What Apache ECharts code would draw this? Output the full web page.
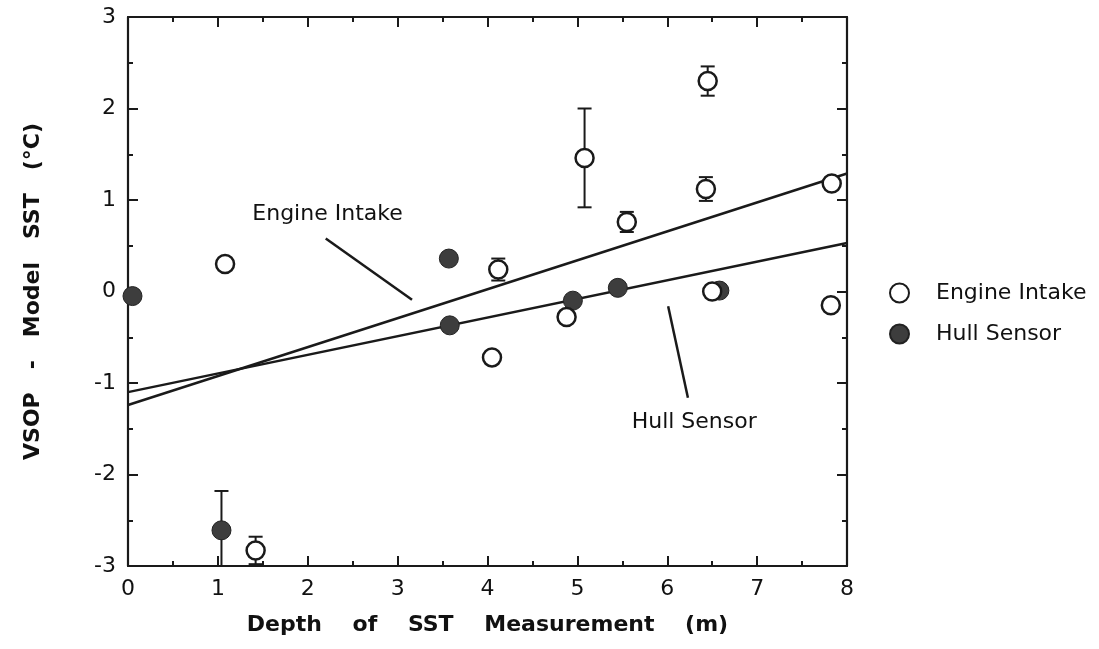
<!DOCTYPE html>
<html><head><meta charset="utf-8">
<script src="https://cdn.jsdelivr.net/npm/echarts@6/dist/echarts.min.js"></script>
<style>html,body{margin:0;padding:0;background:#fff}#c{width:1099px;height:649px}</style>
</head><body><div id="c"></div>
<script>
// ---- data ----
const engineX   = [1.08, 1.42, 4.05, 4.12, 4.88, 5.08, 5.55, 6.45, 6.43, 6.50, 7.83, 7.82];
const engineY   = [0.30, -2.83, -0.72, 0.24, -0.28, 1.46, 0.76, 2.30, 1.12, 0.00, 1.18, -0.15];
const engineErr = [0, 0.15, 0, 0.12, 0, 0.54, 0.11, 0.16, 0.13, 0.04, 0.05, 0];

const hullX   = [0.05, 1.04, 3.57, 3.58, 4.95, 5.45, 6.58];
const hullY   = [-0.05, -2.61, 0.36, -0.37, -0.10, 0.04, 0.01];
const hullErr = [0, 0.43, 0, 0, 0, 0, 0];

const fitX = [0, 8];
const engineFitY = [-1.24, 1.29];
const hullFitY = [-1.10, 0.53];

const engineLeaderX = [2.20, 3.16];
const engineLeaderY = [0.58, -0.09];
const hullLeaderX = [6.01, 6.23];
const hullLeaderY = [-0.16, -1.16];

const annotX = [2.22, 6.30];
const annotY = [0.84, -1.43];
const annotText = ['Engine Intake', 'Hull Sensor'];

const xTicks = [0, 8, 1];   // min, max, interval
const yTicks = [-3, 3, 1];
const xTitle = 'Depth    of    SST    Measurement    (m)';
const yTitle = 'VSOP   -   Model   SST   (°C)';
const legendNames = ['Engine Intake', 'Hull Sensor'];

// ---- chart ----
const INK = '#1a1a1a';
const FONT = 'DejaVu Sans';
const zip = (a, b, c) => a.map((v, i) => c ? [v, b[i], c[i]] : [v, b[i]]);

function errBar(params, api) {
  const x = api.value(0), y = api.value(1), e = api.value(2);
  if (!e) return null;
  const t = api.coord([x, y + e]), b = api.coord([x, y - e]);
  const hw = 7;
  const st = { stroke: INK, lineWidth: 2 };
  return { type: 'group', children: [
    { type: 'line', shape: { x1: t[0], y1: t[1], x2: b[0], y2: b[1] }, style: st },
    { type: 'line', shape: { x1: t[0] - hw, y1: t[1], x2: t[0] + hw, y2: t[1] }, style: st },
    { type: 'line', shape: { x1: b[0] - hw, y1: b[1], x2: b[0] + hw, y2: b[1] }, style: st }
  ]};
}

function axisBase(pos, rng, showLabel) {
  return {
    type: 'value', position: pos, min: rng[0], max: rng[1], interval: rng[2],
    axisLine: { show: true, onZero: false, lineStyle: { color: INK, width: 2.2 } },
    axisTick: { show: true, inside: true, length: 10, lineStyle: { color: INK, width: 2 } },
    minorTick: { show: true, splitNumber: 2, length: 5, lineStyle: { color: INK, width: 2 } },
    splitLine: { show: false }, minorSplitLine: { show: false },
    axisLabel: { show: showLabel, fontSize: 22, color: '#111', fontFamily: FONT, margin: 12 }
  };
}

const chart = echarts.init(document.getElementById('c'), null, { renderer: 'canvas' });
const xb = axisBase('bottom', xTicks, true);
Object.assign(xb, { name: xTitle, nameLocation: 'middle', nameGap: 48,
  nameTextStyle: { fontSize: 22, fontWeight: 'bold', fontFamily: FONT, color: '#111' } });
const yl = axisBase('left', yTicks, true);
Object.assign(yl, { name: yTitle, nameLocation: 'middle', nameGap: 84, nameRotate: 90,
  nameTextStyle: { fontSize: 22, fontWeight: 'bold', fontFamily: FONT, color: '#111' } });

chart.setOption({
  animation: false,
  backgroundColor: '#fff',
  grid: { left: 128, right: 252, top: 17, bottom: 83, containLabel: false },
  xAxis: [xb, axisBase('top', xTicks, false)],
  yAxis: [yl, axisBase('right', yTicks, false)],
  legend: {
    data: legendNames.map(n => ({ name: n, icon: 'circle' })),
    orient: 'vertical', left: 884, top: 277, itemWidth: 19, itemHeight: 19, itemGap: 19,
    textStyle: { fontSize: 22, fontFamily: FONT, color: '#111', padding: [0, 0, 0, 22] }
  },
  series: [
    { name: 'engineFit', type: 'line', data: zip(fitX, engineFitY), symbol: 'none',
      lineStyle: { color: INK, width: 2.5 }, z: 1, silent: true },
    { name: 'hullFit', type: 'line', data: zip(fitX, hullFitY), symbol: 'none',
      lineStyle: { color: INK, width: 2.5 }, z: 1, silent: true },
    { name: 'engineLeader', type: 'line', data: zip(engineLeaderX, engineLeaderY), symbol: 'none',
      lineStyle: { color: INK, width: 2.5 }, z: 1, silent: true },
    { name: 'hullLeader', type: 'line', data: zip(hullLeaderX, hullLeaderY), symbol: 'none',
      lineStyle: { color: INK, width: 2.5 }, z: 1, silent: true },
    { name: 'engineErr', type: 'custom', renderItem: errBar, data: zip(engineX, engineY, engineErr),
      z: 2, clip: true, silent: true },
    { name: 'hullErr', type: 'custom', renderItem: errBar, data: zip(hullX, hullY, hullErr),
      z: 2, clip: true, silent: true },
    { name: 'Hull Sensor', type: 'scatter', data: zip(hullX, hullY), symbol: 'circle', symbolSize: 19,
      itemStyle: { color: '#3d3d3d', borderColor: '#222', borderWidth: 1, opacity: 1 }, z: 3, clip: false },
    { name: 'Engine Intake', type: 'scatter', data: zip(engineX, engineY), symbol: 'circle', symbolSize: 18,
      itemStyle: { color: '#fff', borderColor: INK, borderWidth: 2.5, opacity: 1 }, z: 4, clip: false },
    { name: 'annotations', type: 'scatter', data: zip(annotX, annotY), symbolSize: 0, silent: true, z: 5,
      itemStyle: { opacity: 1, color: '#111' },
      label: { show: true, position: 'inside', formatter: p => annotText[p.dataIndex],
        fontSize: 22, fontFamily: FONT, color: '#111', opacity: 1 } }
  ]
});
</script></body></html>
